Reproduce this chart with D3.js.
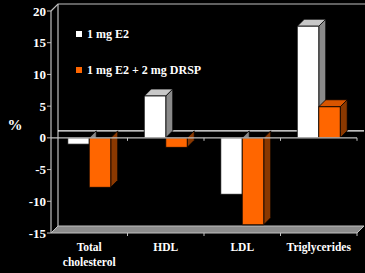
<!DOCTYPE html>
<html><head><meta charset="utf-8">
<script src="https://cdn.jsdelivr.net/npm/d3@7"></script>
<style>body{margin:0;background:#000}svg{display:block}</style>
</head><body>
<script>
const categories = [["Total","cholesterol"],["HDL"],["LDL"],["Triglycerides"]];
const catKeys = ["Total cholesterol","HDL","LDL","Triglycerides"];
const seriesNames = ["1 mg E2","1 mg E2 + 2 mg DRSP"];
const e2 = [-1, 6.6, -8.9, 17.6];
const e2drsp = [-7.8, -1.5, -13.7, 4.9];
const yTicks = [-15,-10,-5,0,5,10,15,20];

const W=365,H=273, D=7;
const svg=d3.select("body").append("svg").attr("width",W).attr("height",H).style("background","#000");
const y=d3.scaleLinear().domain([-15,20]).range([233,11]);
const x0=d3.scaleBand().domain(catKeys).range([51,357]).padding(0);
const x1=d3.scaleBand().domain(seriesNames).range([0,x0.bandwidth()]).paddingInner(0).paddingOuter(0.78);
const font="'Liberation Serif','Times New Roman',serif";
const axisCol="#c0c0c0";
const L=x0.range()[0], R=x0.range()[1];
const yTop=y(20), yBot=y(-15), y0=y(0);

// back wall outline
svg.append("path").attr("d",`M${L},${yTop}L${L+D},${yTop-D}L${W+5},${yTop-D}`).attr("fill","none").attr("stroke",axisCol).attr("stroke-width",1.2);
svg.append("line").attr("x1",L+D).attr("x2",L+D).attr("y1",yTop-D).attr("y2",yBot-D).attr("stroke",axisCol).attr("stroke-width",1.2);
// back zero gridline
svg.append("line").attr("x1",L+D).attr("x2",R+D).attr("y1",y0-D).attr("y2",y0-D).attr("stroke","#fff").attr("stroke-width",1.2);
// floor
svg.append("path").attr("d",`M${L},${yBot}L${L+D},${yBot-D}L${R+D},${yBot-D}L${R},${yBot}Z`).attr("fill","#8c8c8c").attr("stroke",axisCol).attr("stroke-width",1);
// front y axis line
svg.append("line").attr("x1",L).attr("x2",L).attr("y1",yTop).attr("y2",yBot).attr("stroke",axisCol).attr("stroke-width",1.2);
// y ticks + labels
const yg=svg.append("g");
yTicks.forEach(t=>{
  yg.append("line").attr("x1",L-4).attr("x2",L).attr("y1",y(t)).attr("y2",y(t)).attr("stroke",axisCol);
  yg.append("text").attr("x",L-5).attr("y",y(t)).attr("dy","0.35em").attr("text-anchor","end")
    .attr("fill","#fff").attr("font-family",font).attr("font-weight","bold").attr("font-size",13).text(t);
});
// category ticks
x0.domain().forEach((c,i)=>{
  const xb=x0(c)+x0.bandwidth();
  svg.append("line").attr("x1",xb).attr("x2",xb).attr("y1",y0).attr("y2",y0+3).attr("stroke",axisCol);
  svg.append("line").attr("x1",xb).attr("x2",xb).attr("y1",yBot).attr("y2",yBot+3).attr("stroke",axisCol);
});

const styles=[{front:"#ffffff",top:"#c8c8c8",side:"#8a8a8a"},{front:"#ff6600",top:"#d95500",side:"#8a3800"}];
const data=[e2,e2drsp];
catKeys.forEach((c,i)=>{
  seriesNames.forEach((s,j)=>{
    const v=data[j][i], st=styles[j];
    const xa=x0(c)+x1(s), xb=xa+x1.bandwidth();
    const yt=Math.min(y(v),y0), yb=Math.max(y(v),y0);
    const g=svg.append("g").attr("stroke","#000").attr("stroke-width",0.8).attr("stroke-linejoin","round");
    g.append("path").attr("d",`M${xb},${yt}L${xb+D},${yt-D}L${xb+D},${yb-D}L${xb},${yb}Z`).attr("fill",st.side);
    if(v>0) g.append("path").attr("d",`M${xa},${yt}L${xa+D},${yt-D}L${xb+D},${yt-D}L${xb},${yt}Z`).attr("fill",st.top);
    g.append("rect").attr("x",xa).attr("y",yt).attr("width",xb-xa).attr("height",yb-yt).attr("fill",st.front);
  });
});
// front zero line (over bars)
svg.append("line").attr("x1",L).attr("x2",R).attr("y1",y0).attr("y2",y0).attr("stroke",axisCol).attr("stroke-width",1.2);

// category labels
catKeys.forEach((c,i)=>{
  const cx=x0(c)+x0.bandwidth()/2;
  const t=svg.append("text").attr("x",cx).attr("y",251).attr("text-anchor","middle").attr("fill","#fff")
    .attr("font-family",font).attr("font-weight","bold").attr("font-size",11.5);
  categories[i].forEach((ln,k)=>t.append("tspan").attr("x",cx).attr("dy",k?15:0).text(ln));
});
// % label
svg.append("text").attr("x",15).attr("y",130).attr("text-anchor","middle").attr("fill","#fff")
  .attr("font-family",font).attr("font-weight","bold").attr("font-size",15).text("%");
// legend
seriesNames.forEach((s,j)=>{
  const ly=[34,70][j];
  svg.append("rect").attr("x",76).attr("y",ly-3).attr("width",6).attr("height",6).attr("fill",styles[j].front);
  svg.append("text").attr("x",87).attr("y",ly).attr("dy","0.35em").attr("fill","#fff")
    .attr("font-family",font).attr("font-weight","bold").attr("font-size",12).text(s);
});
</script>
</body></html>
